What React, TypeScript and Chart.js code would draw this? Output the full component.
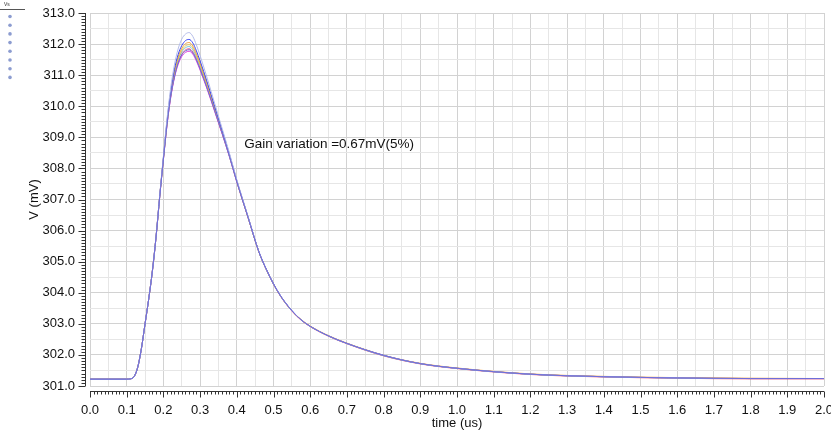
import { useEffect, useRef } from "react";
import { Chart, registerables } from "chart.js";

Chart.register(...registerables);

// time axis (us)
const times = [
  0, 0.1, 0.11, 0.12, 0.13, 0.14, 0.15, 0.16, 0.17, 0.18,
  0.19, 0.2, 0.21, 0.22, 0.23, 0.24, 0.25, 0.26, 0.27, 0.28, 0.29, 0.3, 0.32, 0.34, 0.36, 0.38, 0.4, 0.43, 0.46,
  0.48, 0.5, 0.52, 0.55, 0.575, 0.6, 0.65, 0.7, 0.8, 0.9, 1.0, 1.2, 1.4, 1.6, 1.8, 2.0,
];

// series values (mV)
const vsSlate = [
  301.22, 301.22, 301.23, 301.30, 301.60, 302.20, 303.00, 303.80, 304.70, 305.80,
  307.09, 308.28, 309.42, 310.31, 310.94, 311.38, 311.65, 311.78, 311.82, 311.72, 311.49, 311.20, 310.55, 309.85, 309.13, 308.38, 307.57, 306.45, 305.32,
  304.76, 304.28, 303.88, 303.42, 303.13, 302.92, 302.61, 302.37, 301.98, 301.72, 301.57, 301.38, 301.30, 301.26, 301.24, 301.24,
];
const vsLavender = [
  301.22, 301.22, 301.23, 301.30, 301.60, 302.20, 303.00, 303.80, 304.70, 305.81,
  307.14, 308.39, 309.61, 310.60, 311.33, 311.84, 312.16, 312.32, 312.37, 312.25, 311.97, 311.63, 310.88, 310.08, 309.29, 308.49, 307.64, 306.48, 305.33,
  304.76, 304.28, 303.88, 303.42, 303.13, 302.92, 302.61, 302.37, 301.98, 301.72, 301.57, 301.38, 301.30, 301.26, 301.24, 301.24,
];
const vsBlue = [
  301.22, 301.22, 301.23, 301.30, 301.60, 302.20, 303.00, 303.80, 304.70, 305.80,
  307.12, 308.35, 309.54, 310.48, 311.18, 311.66, 311.95, 312.11, 312.15, 312.04, 311.78, 311.46, 310.75, 309.99, 309.23, 308.45, 307.61, 306.47, 305.33,
  304.77, 304.29, 303.89, 303.43, 303.13, 302.92, 302.61, 302.37, 301.99, 301.72, 301.57, 301.38, 301.30, 301.26, 301.24, 301.24,
];
const vsOrange = [
  301.22, 301.22, 301.23, 301.30, 301.60, 302.20, 303.00, 303.80, 304.70, 305.80,
  307.11, 308.33, 309.50, 310.43, 311.11, 311.58, 311.86, 312.01, 312.05, 311.94, 311.69, 311.38, 310.69, 309.94, 309.20, 308.43, 307.60, 306.46, 305.32,
  304.76, 304.28, 303.88, 303.42, 303.14, 302.93, 302.62, 302.38, 301.99, 301.73, 301.58, 301.39, 301.31, 301.27, 301.25, 301.24,
];
const vsYellow = [
  301.22, 301.22, 301.23, 301.30, 301.60, 302.20, 303.00, 303.80, 304.70, 305.80,
  307.11, 308.32, 309.48, 310.39, 311.06, 311.52, 311.79, 311.94, 311.98, 311.88, 311.63, 311.32, 310.65, 309.91, 309.17, 308.42, 307.59, 306.45, 305.32,
  304.76, 304.28, 303.88, 303.42, 303.13, 302.92, 302.61, 302.37, 301.98, 301.72, 301.57, 301.38, 301.30, 301.26, 301.24, 301.24,
];
const vsCyan = [
  301.22, 301.22, 301.23, 301.30, 301.60, 302.20, 303.00, 303.80, 304.70, 305.80,
  307.10, 308.30, 309.46, 310.36, 311.01, 311.47, 311.74, 311.88, 311.92, 311.82, 311.58, 311.28, 310.61, 309.89, 309.16, 308.40, 307.58, 306.45, 305.32,
  304.76, 304.28, 303.88, 303.42, 303.13, 302.92, 302.61, 302.37, 301.98, 301.72, 301.57, 301.38, 301.30, 301.26, 301.24, 301.24,
];
const vsRed = [
  301.22, 301.22, 301.23, 301.30, 301.60, 302.20, 303.00, 303.80, 304.70, 305.80,
  307.10, 308.29, 309.43, 310.32, 310.96, 311.41, 311.67, 311.81, 311.85, 311.75, 311.52, 311.22, 310.57, 309.86, 309.13, 308.39, 307.57, 306.45, 305.32,
  304.75, 304.27, 303.87, 303.41, 303.12, 302.91, 302.60, 302.36, 301.97, 301.71, 301.56, 301.37, 301.29, 301.25, 301.23, 301.23,
];
const vsMagenta = [
  301.22, 301.22, 301.23, 301.30, 301.60, 302.20, 303.00, 303.80, 304.70, 305.79,
  307.09, 308.28, 309.40, 310.28, 310.91, 311.34, 311.60, 311.73, 311.77, 311.68, 311.45, 311.16, 310.52, 309.82, 309.11, 308.37, 307.56, 306.44, 305.32,
  304.76, 304.28, 303.88, 303.42, 303.13, 302.92, 302.61, 302.37, 301.98, 301.72, 301.57, 301.38, 301.30, 301.26, 301.24, 301.24,
];

const seriesNames = ["Vs1", "Vs2", "Vs3", "Vs4", "Vs5", "Vs6", "Vs7", "Vs8"];
const seriesValues = [vsSlate, vsLavender, vsBlue, vsOrange, vsYellow, vsCyan, vsRed, vsMagenta];
const seriesColors = ["#6c6cd8", "#b4bce8", "#3c46f0", "#f0a040", "#e0c850", "#70c0e0", "#f05078", "#e040e0"];

const xMin = 0;
const xMax = 2.0;
const yMin = 301.0;
const yMax = 313.0;
const xTitle = "time (us)";
const yTitle = "V (mV)";
const legendTitle = "Vs";
const annotationText = "Gain variation =0.67mV(5%)";
const annotationX = 0.42;
const annotationY = 308.79;

const FONT = '"Liberation Sans", Arial, Helvetica, sans-serif';

const overlayPlugin = {
  id: "overlay",
  afterDraw(chart: any) {
    const { ctx, chartArea: a, scales } = chart;
    const x = scales.x;
    const y = scales.y;
    ctx.save();
    ctx.strokeStyle = "#333";
    ctx.lineWidth = 1;
    ctx.beginPath();
    // y axis
    const ax = a.left - 5 + 0.5;
    ctx.moveTo(ax, a.top);
    ctx.lineTo(ax, a.bottom);
    y.ticks.forEach((t: any) => {
      const py = Math.round(y.getPixelForValue(t.value)) + 0.5;
      const major = Math.round(t.value * 10) % 10 === 0;
      ctx.moveTo(ax, py);
      ctx.lineTo(ax - (major ? 7 : 4), py);
    });
    // x axis
    const ay = a.bottom + 5 + 0.5;
    ctx.moveTo(a.left, ay);
    ctx.lineTo(a.right, ay);
    x.ticks.forEach((t: any) => {
      const px = Math.round(x.getPixelForValue(t.value)) + 0.5;
      const major = Math.round(t.value * 100) % 10 === 0;
      ctx.moveTo(px, ay);
      ctx.lineTo(px, ay + (major ? 6 : 3));
    });
    ctx.stroke();

    // annotation
    ctx.fillStyle = "#111";
    ctx.font = `13.5px ${FONT}`;
    ctx.textAlign = "left";
    ctx.textBaseline = "middle";
    ctx.fillText(annotationText, x.getPixelForValue(annotationX), y.getPixelForValue(annotationY));

    // mini legend
    ctx.font = `5px ${FONT}`;
    ctx.fillStyle = "#333";
    ctx.fillText(legendTitle, 4, 5);
    ctx.beginPath();
    ctx.moveTo(0, 9.5);
    ctx.lineTo(25, 9.5);
    ctx.strokeStyle = "#555";
    ctx.stroke();
    ctx.fillStyle = "#8c9cd0";
    seriesNames.forEach((_, i) => {
      ctx.beginPath();
      ctx.arc(10, 16.5 + i * 8.7, 1.8, 0, Math.PI * 2);
      ctx.fill();
    });
    ctx.restore();
  },
};

export default function App() {
  const ref = useRef<HTMLCanvasElement | null>(null);

  useEffect(() => {
    if (!ref.current) return;
    const datasets = seriesValues.map((vals, i) => ({
      label: seriesNames[i],
      data: vals.map((v, j) => ({ x: times[j], y: v })),
      borderColor: seriesColors[i],
      backgroundColor: seriesColors[i],
      borderWidth: 1,
      pointRadius: 0,
      cubicInterpolationMode: "monotone" as const,
      fill: false,
    }));

    const chart = new Chart(ref.current, {
      type: "line",
      data: { datasets },
      options: {
        animation: false,
        responsive: false,
        devicePixelRatio: 1,
        layout: { padding: { left: 0, top: 13, right: 7, bottom: 0 } },
        plugins: { legend: { display: false }, tooltip: { enabled: false } },
        scales: {
          x: {
            type: "linear",
            min: xMin,
            max: xMax,
            afterBuildTicks: (s: any) => {
              const ticks = [];
              for (let i = 0; i <= 200; i++) ticks.push({ value: i / 100 });
              s.ticks = ticks;
            },
            afterFit: (s: any) => {
              s.height = 47;
              s.paddingLeft = 0;
              s.paddingRight = 0;
            },
            ticks: {
              autoSkip: false,
              maxRotation: 0,
              minRotation: 0,
              padding: 17,
              color: "#111",
              font: { family: FONT, size: 13 },
              callback: (v: any) => (Math.round(Number(v) * 100) % 10 === 0 ? Number(v).toFixed(1) : ""),
            },
            grid: {
              drawTicks: false,
              color: (c: any) => {
                const k = Math.round((c.tick?.value ?? 0) * 100);
                if (k % 10 === 0) return "#d2d2d2";
                if (k % 5 === 0) return "#e6e6e6";
                return "rgba(0,0,0,0)";
              },
            },
            border: { display: false },
            title: {
              display: true,
              text: xTitle,
              color: "#111",
              font: { family: FONT, size: 13 },
              padding: { top: 0, bottom: 2 },
            },
          },
          y: {
            type: "linear",
            min: yMin,
            max: yMax,
            afterBuildTicks: (s: any) => {
              const ticks = [];
              for (let i = 0; i <= 120; i++) ticks.push({ value: (3010 + i) / 10 });
              s.ticks = ticks;
            },
            afterFit: (s: any) => {
              s.width = 90;
              s.paddingTop = 0;
              s.paddingBottom = 0;
            },
            ticks: {
              autoSkip: false,
              padding: 15,
              color: "#111",
              font: { family: FONT, size: 13 },
              callback: (v: any) => (Math.round(Number(v) * 10) % 10 === 0 ? Number(v).toFixed(1) : ""),
            },
            grid: {
              drawTicks: false,
              color: (c: any) => {
                const k = Math.round((c.tick?.value ?? 0) * 10);
                if (k % 10 === 0) return "#d2d2d2";
                if (k % 5 === 0) return "#e6e6e6";
                return "rgba(0,0,0,0)";
              },
            },
            border: { display: false },
            title: {
              display: true,
              text: yTitle,
              color: "#111",
              font: { family: FONT, size: 13 },
              padding: { top: 27, bottom: 0 },
            },
          },
        },
      },
      plugins: [overlayPlugin],
    });
    return () => chart.destroy();
  }, []);

  return (
    <div style={{ position: "absolute", left: 0, top: 0, width: 831, height: 433, background: "#fff" }}>
      <canvas ref={ref} width={831} height={433} style={{ display: "block", width: 831, height: 433 }} />
    </div>
  );
}
